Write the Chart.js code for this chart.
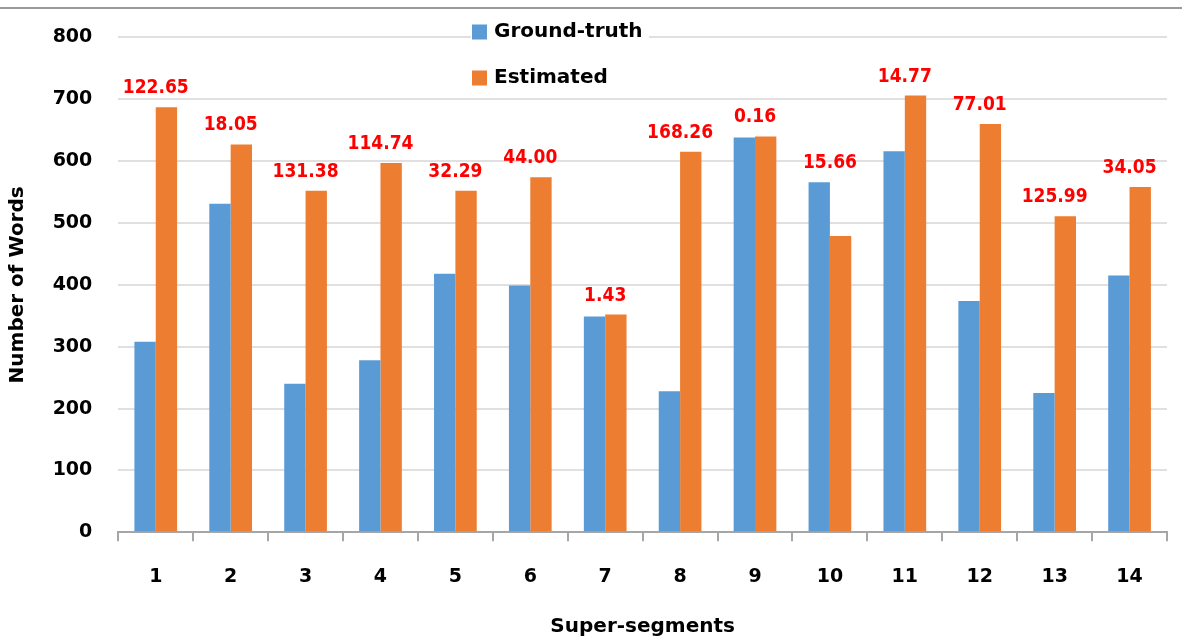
<!DOCTYPE html>
<html lang="en">
<head>
    <meta charset="UTF-8">
    <title>Super-segments word counts</title>
    <style>
        html, body { margin: 0; padding: 0; background: #fff; }
        #wrap { width: 1182px; height: 639px; }
    </style>
</head>
<body>
    <div id="wrap">
        <canvas id="myChart" width="1182" height="639"></canvas>
    </div>
    <script src="https://cdn.jsdelivr.net/npm/chart.js"></script>
    <script>
        // data
        const categories = ['1', '2', '3', '4', '5', '6', '7', '8', '9', '10', '11', '12', '13', '14'];
        const groundTruth = [308, 531, 240, 278, 418, 399, 349, 228, 638, 566, 616, 374, 225, 415];
        const estimated = [687, 627, 552, 597, 552, 574, 352, 615, 640, 479, 706, 660, 511, 558];
        const errorLabels = ['122.65', '18.05', '131.38', '114.74', '32.29', '44.00', '1.43',
            '168.26', '0.16', '15.66', '14.77', '77.01', '125.99', '34.05'];
        const yMax = 800;
        const yStep = 100;

        const FONT = "'DejaVu Sans', sans-serif";
        const NARROW = "'DejaVu Sans Condensed', 'DejaVu Sans', sans-serif";

        // red numbers above each pair of bars
        const errorLabelPlugin = {
            id: 'errorLabels',
            afterDatasetsDraw(chart) {
                const ctx = chart.ctx;
                const m0 = chart.getDatasetMeta(0);
                const m1 = chart.getDatasetMeta(1);
                const xs = chart.scales.x;
                ctx.save();
                ctx.font = 'bold 19px ' + NARROW;
                ctx.fillStyle = '#ff0000';
                ctx.textAlign = 'center';
                ctx.textBaseline = 'alphabetic';
                errorLabels.forEach((t, i) => {
                    const top = Math.min(m0.data[i].y, m1.data[i].y);
                    ctx.fillText(t, xs.getPixelForValue(i), top - 14);
                });
                ctx.restore();
            }
        };

        // vertical legend in the top middle, plus the frame line
        const legendPlugin = {
            id: 'stackLegend',
            afterDraw(chart) {
                const ctx = chart.ctx;
                ctx.save();
                ctx.strokeStyle = '#9a9a9a';
                ctx.lineWidth = 2;
                ctx.beginPath();
                ctx.moveTo(0, 8);
                ctx.lineTo(chart.width, 8);
                ctx.stroke();

                ctx.fillStyle = '#fff';
                ctx.fillRect(471, 16, 178, 74);
                ctx.font = 'bold 20px ' + FONT;
                ctx.textBaseline = 'middle';
                ctx.textAlign = 'left';
                chart.data.datasets.forEach((ds, i) => {
                    const y = 32 + i * 46;
                    ctx.fillStyle = ds.backgroundColor;
                    ctx.fillRect(472, y - 7.5, 15, 15);
                    ctx.fillStyle = '#000';
                    ctx.fillText(ds.label, 494, y);
                });
                ctx.restore();
            }
        };

        var ctx1 = document.getElementById('myChart');
        var myChart = new Chart(ctx1, {
            type: 'bar',
            data: {
                labels: categories,
                datasets: [{
                    label: 'Ground-truth',
                    backgroundColor: '#5b9bd5',
                    data: groundTruth,
                }, {
                    label: 'Estimated',
                    backgroundColor: '#ed7d31',
                    data: estimated,
                }]
            },
            options: {
                responsive: false,
                animation: false,
                datasets: {
                    bar: {
                        barPercentage: 1,
                        categoryPercentage: 0.57
                    }
                },
                layout: {
                    padding: { top: 34, right: 15, left: 0, bottom: 0 }
                },
                plugins: {
                    legend: { display: false },
                    tooltip: { enabled: false }
                },
                scales: {
                    x: {
                        afterFit: s => { s.height = 106.7; },
                        border: { color: '#a6a6a6', width: 2 },
                        grid: {
                            drawOnChartArea: false,
                            color: '#a6a6a6',
                            lineWidth: 2,
                            tickLength: 9
                        },
                        ticks: {
                            color: '#000',
                            padding: 24,
                            font: { family: FONT, size: 19, weight: 'bold' }
                        },
                        title: {
                            display: true,
                            text: 'Super-segments',
                            color: '#000',
                            font: { family: FONT, size: 20, weight: 'bold' },
                            padding: { top: 0, bottom: 0 }
                        }
                    },
                    y: {
                        min: 0,
                        max: yMax,
                        afterFit: s => { s.width = 118.3; },
                        border: { display: false },
                        grid: {
                            color: '#e0e0e0',
                            lineWidth: 2,
                            drawTicks: false
                        },
                        ticks: {
                            stepSize: yStep,
                            color: '#000',
                            padding: 26,
                            font: { family: FONT, size: 19, weight: 'bold' }
                        },
                        title: {
                            display: true,
                            text: 'Number of Words',
                            color: '#000',
                            font: { family: FONT, size: 20, weight: 'bold' },
                            padding: { top: 6, bottom: 0 }
                        }
                    }
                }
            },
            plugins: [errorLabelPlugin, legendPlugin]
        });
    </script>
</body>
</html>
